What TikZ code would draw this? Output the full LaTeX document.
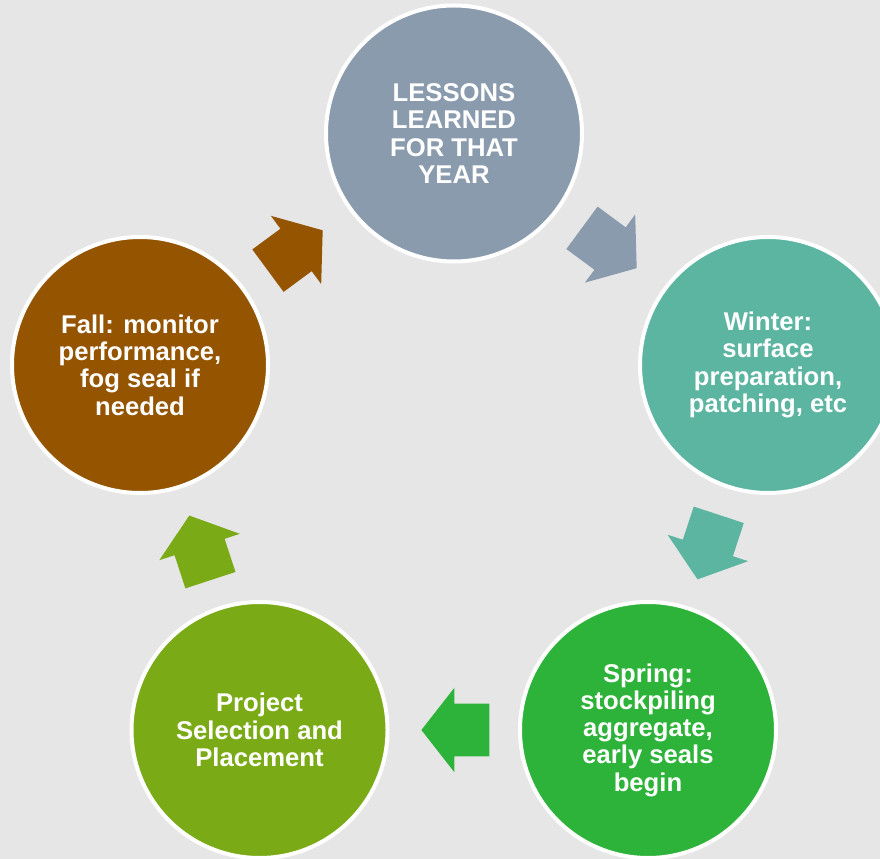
\documentclass[tikz,border=0pt]{standalone}
\usepackage{fontspec}
\setmainfont{Liberation Sans}
\usepackage{xcolor}
\usepackage{tikz}
\usetikzlibrary{shapes.arrows,calc}
\definecolor{backdrop}{HTML}{E6E6E6}
\definecolor{lessons}{HTML}{8A9BAE}
\definecolor{winter}{HTML}{5BB5A1}
\definecolor{spring}{HTML}{2EB33A}
\definecolor{project}{HTML}{7AAA16}
\definecolor{fall}{HTML}{945400}

\begin{document}
\begin{tikzpicture}[x=0.2mm,y=-0.2mm,
  stage/.style={circle,minimum size=51.2mm,inner sep=0pt,draw=white,line width=0.8mm,text=white,align=center,font=\fontsize{14.6}{15.5}\selectfont\bfseries},
  turn/.style={single arrow,minimum height=13.6mm,inner xsep=0pt,inner ysep=5.2mm,single arrow head extend=3.2mm,single arrow tip angle=104,draw=none,pos=0.22,anchor=tail,sloped,allow upside down}]
\fill[backdrop] (0,0) rectangle (880,859);
\useasboundingbox (0,0) rectangle (880,859);
\clip (0,0) rectangle (880,859);
% the five stages round the year
\node[stage,fill=lessons] (lessons) at (454,133.5) {LESSONS\\LEARNED\\FOR THAT\\YEAR};
\node[stage,fill=winter] (winter) at (768,365) {Winter:\\surface\\preparation,\\patching, etc};
\node[stage,fill=spring] (spring) at (648,730) {Spring:\\stockpiling\\aggregate,\\early seals\\begin};
\node[stage,fill=project] (project) at (259.5,730) {Project\\Selection and\\Placement};
\node[stage,fill=fall] (fall) at (140,365) {Fall: monitor\\performance,\\fog seal if\\needed};
% block arrows between neighbours
\path (lessons) -- (winter) node[turn,fill=lessons] (a1) {};
\path (winter) -- (spring) node[turn,fill=winter] (a2) {};
\path (spring) -- (project) node[turn,fill=spring] (a3) {};
\path (project) -- (fall) node[turn,fill=project] (a4) {};
\path (fall) -- (lessons) node[turn,fill=fall] (a5) {};
\end{tikzpicture}
\end{document}
